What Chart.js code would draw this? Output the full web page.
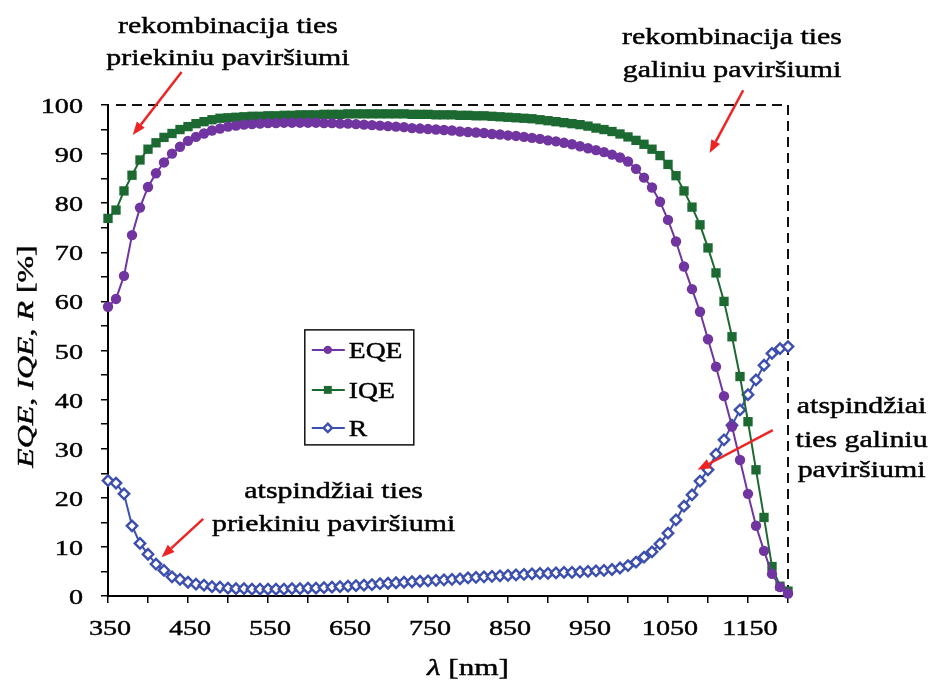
<!DOCTYPE html>
<html>
<head>
<meta charset="utf-8">
<script src="https://cdn.jsdelivr.net/npm/chart.js@4.4.1/dist/chart.umd.min.js"></script>
<style>
  html, body { margin: 0; padding: 0; background: #fff; }
  #wrap { width: 936px; height: 681px; }
</style>
</head>
<body>
<div id="wrap"><canvas id="chart" width="936" height="681"></canvas></div>
<script>
// wavelength grid [nm]
const wavelengths = [
  350, 360, 370, 380, 390, 400, 410, 420, 430, 440,
  450, 460, 470, 480, 490, 500, 510, 520, 530, 540,
  550, 560, 570, 580, 590, 600, 610, 620, 630, 640,
  650, 660, 670, 680, 690, 700, 710, 720, 730, 740,
  750, 760, 770, 780, 790, 800, 810, 820, 830, 840,
  850, 860, 870, 880, 890, 900, 910, 920, 930, 940,
  950, 960, 970, 980, 990, 1000, 1010, 1020, 1030, 1040,
  1050, 1060, 1070, 1080, 1090, 1100, 1110, 1120, 1130, 1140,
  1150, 1160, 1170, 1180, 1190, 1200
];
const eqe = [
  58.9, 60.5, 65.2, 73.5, 79.1, 83.3, 86.1, 88.3, 90.1, 91.5,
  92.7, 93.5, 94.2, 94.8, 95.2, 95.6, 95.8, 96.0, 96.1, 96.2,
  96.3, 96.3, 96.4, 96.4, 96.4, 96.4, 96.4, 96.3, 96.3, 96.2,
  96.2, 96.1, 96.0, 95.9, 95.8, 95.7, 95.6, 95.5, 95.3, 95.2,
  95.1, 95.0, 94.9, 94.8, 94.6, 94.5, 94.4, 94.3, 94.1, 94.0,
  93.8, 93.7, 93.5, 93.3, 93.1, 92.8, 92.6, 92.3, 92.0, 91.6,
  91.2, 90.8, 90.4, 89.9, 89.3, 88.5, 87.0, 85.2, 83.2, 80.3,
  76.6, 72.2, 67.1, 62.5, 57.9, 52.3, 46.7, 40.7, 34.5, 27.7,
  20.8, 14.3, 9.2, 4.5, 1.8, 0.5
];
const iqe = [
  76.9, 78.6, 82.5, 85.7, 88.8, 91.0, 92.3, 93.4, 94.2, 95.0,
  95.6, 96.2, 96.6, 97.0, 97.3, 97.4, 97.5, 97.6, 97.7, 97.7,
  97.8, 97.8, 97.9, 97.9, 98.0, 98.0, 98.0, 98.1, 98.1, 98.1,
  98.2, 98.2, 98.2, 98.2, 98.2, 98.2, 98.2, 98.2, 98.1, 98.1,
  98.1, 98.0, 98.0, 98.0, 97.9, 97.9, 97.8, 97.8, 97.7, 97.6,
  97.5, 97.4, 97.3, 97.2, 97.0, 96.8, 96.6, 96.4, 96.2, 96.0,
  95.7, 95.3, 95.0, 94.6, 94.1, 93.5, 92.8, 92.0, 91.0, 89.7,
  87.9, 85.6, 82.5, 79.2, 75.6, 70.9, 65.8, 60.0, 52.8, 44.7,
  35.5, 25.7, 16.0, 6.0, 2.0, 1.0
];
const refl = [
  23.5, 23.0, 20.8, 14.3, 10.7, 8.5, 6.5, 5.2, 3.9, 3.4,
  2.8, 2.4, 2.2, 1.9, 1.8, 1.6, 1.5, 1.5, 1.4, 1.4,
  1.4, 1.4, 1.4, 1.5, 1.5, 1.6, 1.6, 1.7, 1.8, 1.9,
  2.0, 2.1, 2.2, 2.3, 2.5, 2.6, 2.7, 2.8, 2.9, 3.0,
  3.1, 3.2, 3.3, 3.4, 3.5, 3.7, 3.8, 3.9, 4.0, 4.1,
  4.2, 4.3, 4.4, 4.5, 4.6, 4.6, 4.7, 4.8, 4.8, 4.9,
  5.0, 5.1, 5.2, 5.4, 5.7, 6.2, 6.9, 7.9, 9.0, 10.6,
  12.8, 15.5, 18.3, 20.6, 23.4, 25.7, 28.9, 31.8, 34.8, 37.9,
  41.0, 44.0, 47.0, 49.4, 50.4, 50.8
];
const xTickLabels = [350, 450, 550, 650, 750, 850, 950, 1050, 1150];
const yTickLabels = [0, 10, 20, 30, 40, 50, 60, 70, 80, 90, 100];

// annotations, in data units (nm, %) so they follow the scales
const notes = [
  { x: 500, y: [114.7, 108.1], lines: ['rekombinacija ties', 'priekiniu paviršiumi'] },
  { x: 1130, y: [112.4, 105.7], lines: ['rekombinacija ties', 'galiniu paviršiumi'] },
  { x: 632, y: [20.0, 13.2], lines: ['atspindžiai ties', 'priekiniu paviršiumi'] },
  { x: 1292, y: [37.3, 30.4, 24.2], lines: ['atspindžiai', 'ties galiniu', 'paviršiumi'] }
];
const arrows = [
  { from: [442, 106.7], to: [381, 93.9] },
  { from: [1144, 103.0], to: [1102, 90.2] },
  { from: [469, 15.7], to: [417, 7.9] },
  { from: [1181, 33.8], to: [1087, 25.7] }
];

const SERIF = '"Liberation Serif", "Times New Roman", serif';
const PURPLE = '#7035a0';
const GREEN = '#1c6a32';
const BLUE = '#3c4fae';
const RED = '#ee2424';

const toPoints = (ys) => wavelengths.map((w, i) => ({ x: w, y: ys[i] }));

// the source figure has its type stretched sideways, so text is drawn scaled in x
function drawStretched(ctx, str, x, y, align, sx) {
  ctx.save();
  ctx.translate(x, y);
  ctx.scale(sx, 1);
  ctx.textAlign = align;
  ctx.fillText(str, 0, 0);
  ctx.strokeText(str, 0, 0);
  ctx.restore();
}

// text made of italic / upright pieces, centred on (0,0) of the current transform
function drawMixed(ctx, pieces, size, sx) {
  let total = 0;
  pieces.forEach((p) => {
    ctx.font = (p.it ? 'italic ' : '') + size + 'px ' + SERIF;
    p.w = ctx.measureText(p.t).width;
    total += p.w;
  });
  ctx.save();
  ctx.scale(sx, 1);
  let cx = -total / 2;
  ctx.textAlign = 'left';
  pieces.forEach((p) => {
    ctx.font = (p.it ? 'italic ' : '') + size + 'px ' + SERIF;
    ctx.fillText(p.t, cx, 0);
    ctx.strokeText(p.t, cx, 0);
    cx += p.w;
  });
  ctx.restore();
}

function marker(ctx, style, x, y, ds) {
  ctx.save();
  ctx.fillStyle = ds.pointBackgroundColor;
  ctx.strokeStyle = ds.borderColor;
  ctx.lineWidth = ds.pointBorderWidth;
  ctx.beginPath();
  const r = ds.pointRadius;
  if (style === 'circle') {
    ctx.arc(x, y, r, 0, Math.PI * 2);
  } else if (style === 'rect') {
    const s = r * Math.SQRT1_2;
    ctx.rect(x - s, y - s, 2 * s, 2 * s);
  } else {
    ctx.moveTo(x, y - r); ctx.lineTo(x + r, y); ctx.lineTo(x, y + r); ctx.lineTo(x - r, y); ctx.closePath();
  }
  ctx.fill();
  if (ds.pointBorderWidth > 0) ctx.stroke();
  ctx.restore();
}

const frame = {
  id: 'frame',
  beforeDatasetsDraw(chart) {
    const { ctx, chartArea: a } = chart;
    ctx.save();
    ctx.strokeStyle = '#111';
    ctx.lineWidth = 2;
    ctx.setLineDash([10, 6]);
    ctx.beginPath();
    ctx.moveTo(a.left + 8, a.top);
    ctx.lineTo(a.right, a.top);
    ctx.lineTo(a.right, a.bottom);
    ctx.stroke();
    ctx.restore();
  },
  afterDatasetsDraw(chart) {
    const { ctx, chartArea: a, scales: { x, y } } = chart;
    ctx.save();
    ctx.fillStyle = '#000';
    ctx.strokeStyle = '#000';
    ctx.lineWidth = 0.45;
    ctx.textBaseline = 'alphabetic';

    // tick labels
    ctx.font = '22px ' + SERIF;
    xTickLabels.forEach((v) => drawStretched(ctx, String(v), x.getPixelForValue(v) + 2, a.bottom + 39, 'center', 1.28));
    yTickLabels.forEach((v) => drawStretched(ctx, String(v), a.left - 25, y.getPixelForValue(v) + 8, 'right', 1.28));

    // axis titles
    ctx.save();
    ctx.translate((a.left + a.right) / 2 + 20, a.bottom + 79);
    drawMixed(ctx, [{ t: 'λ', it: true }, { t: ' [nm]', it: false }], 24, 1.3);
    ctx.restore();
    ctx.save();
    ctx.translate(33, (a.top + a.bottom) / 2 + 6);
    ctx.rotate(-Math.PI / 2);
    drawMixed(ctx, [
      { t: 'EQE', it: true }, { t: ', ', it: false }, { t: 'IQE', it: true },
      { t: ', ', it: false }, { t: 'R', it: true }, { t: ' [%]', it: false }
    ], 24, 1.33);
    ctx.restore();

    // annotations
    ctx.font = '23px ' + SERIF;
    notes.forEach((n) => {
      n.lines.forEach((line, i) => drawStretched(ctx, line, x.getPixelForValue(n.x), y.getPixelForValue(n.y[i]), 'center', 1.3));
    });

    // red arrows
    ctx.strokeStyle = RED;
    ctx.fillStyle = RED;
    ctx.lineWidth = 2.5;
    arrows.forEach((ar) => {
      const x0 = x.getPixelForValue(ar.from[0]), y0 = y.getPixelForValue(ar.from[1]);
      const x1 = x.getPixelForValue(ar.to[0]), y1 = y.getPixelForValue(ar.to[1]);
      const ang = Math.atan2(y1 - y0, x1 - x0);
      const hl = 13, hw = 5;
      const bx = x1 - hl * Math.cos(ang), by = y1 - hl * Math.sin(ang);
      ctx.beginPath();
      ctx.moveTo(x0, y0);
      ctx.lineTo(bx, by);
      ctx.stroke();
      ctx.beginPath();
      ctx.moveTo(x1, y1);
      ctx.lineTo(bx + hw * Math.sin(ang), by - hw * Math.cos(ang));
      ctx.lineTo(bx - hw * Math.sin(ang), by + hw * Math.cos(ang));
      ctx.closePath();
      ctx.fill();
    });

    // legend box
    const lx = x.getPixelForValue(596), ly = y.getPixelForValue(54.2);
    ctx.fillStyle = '#fff';
    ctx.fillRect(lx, ly, 109, 115);
    ctx.strokeStyle = '#111';
    ctx.lineWidth = 1.5;
    ctx.strokeRect(lx, ly, 109, 115);
    const rows = [20, 60, 98];
    chart.data.datasets.forEach((ds, i) => {
      const ry = ly + rows[i];
      ctx.strokeStyle = ds.borderColor;
      ctx.lineWidth = ds.borderWidth;
      ctx.beginPath();
      ctx.moveTo(lx + 7, ry);
      ctx.lineTo(lx + 40, ry);
      ctx.stroke();
      marker(ctx, ds.pointStyle, lx + 23, ry, { ...ds, pointRadius: ds.pointRadius - 1 });
      ctx.fillStyle = '#000';
      ctx.strokeStyle = '#000';
      ctx.lineWidth = 0.45;
      ctx.font = '23px ' + SERIF;
      drawStretched(ctx, ds.label, lx + 44, ry + 8, 'left', 1.2);
    });
    ctx.restore();
  }
};

const tickGrid = { display: true, drawOnChartArea: false, drawTicks: true, tickLength: 7, color: '#000', lineWidth: 1.5 };

new Chart(document.getElementById('chart'), {
  type: 'line',
  data: {
    datasets: [
      {
        label: 'EQE', data: toPoints(eqe), borderColor: PURPLE, backgroundColor: PURPLE,
        pointBackgroundColor: PURPLE, pointStyle: 'circle', pointRadius: 5.2, pointBorderWidth: 0,
        borderWidth: 2, tension: 0, clip: false
      },
      {
        label: 'IQE', data: toPoints(iqe), borderColor: GREEN, backgroundColor: GREEN,
        pointBackgroundColor: GREEN, pointStyle: 'rect', pointRadius: 6.6, pointBorderWidth: 0,
        borderWidth: 2, tension: 0, clip: false
      },
      {
        label: 'R', data: toPoints(refl), borderColor: BLUE, backgroundColor: '#fff',
        pointBackgroundColor: '#fff', pointStyle: 'rectRot', pointRadius: 5.2, pointBorderWidth: 2.4,
        borderWidth: 2, tension: 0, clip: false
      }
    ]
  },
  options: {
    responsive: false,
    animation: false,
    events: [],
    layout: { padding: { top: 105, right: 148, left: 0, bottom: 0 } },
    plugins: { legend: { display: false }, tooltip: { enabled: false } },
    scales: {
      x: {
        type: 'linear', min: 350, max: 1200,
        ticks: { stepSize: 50, autoSkip: false, maxRotation: 0, callback: () => '' },
        grid: tickGrid,
        border: { display: true, color: '#000', width: 2 },
        afterFit: (s) => { s.height = 85; }
      },
      y: {
        min: 0, max: 100,
        ticks: { stepSize: 5, autoSkip: false, callback: () => '' },
        grid: tickGrid,
        border: { display: true, color: '#000', width: 2 },
        afterFit: (s) => { s.width = 108; }
      }
    }
  },
  plugins: [frame]
});
</script>
</body>
</html>
